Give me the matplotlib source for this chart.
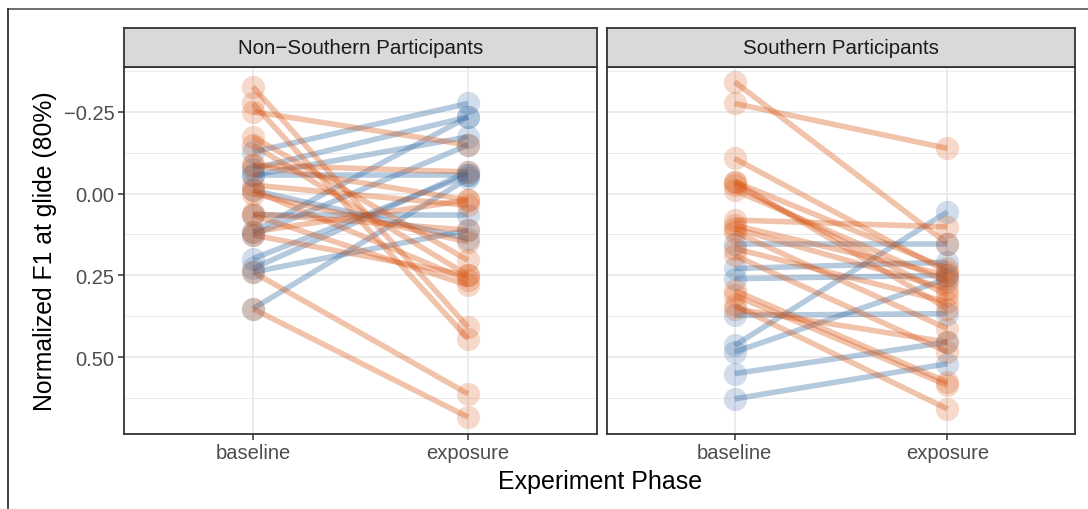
import numpy as np
import matplotlib.pyplot as plt
from matplotlib.lines import Line2D

plt.rcParams['font.family'] = ['Liberation Sans', 'DejaVu Sans']

phases = ["baseline", "exposure"]
panels = ["Non\u2212Southern Participants", "Southern Participants"]

# Non-Southern: baseline -> exposure
ns_blue_base = [-0.127, -0.076, -0.056, 0.117, 0.127, 0.229, 0.199, 0.352, -0.056, 0.066, -0.010, 0.240]
ns_blue_exp = [-0.275, -0.234, -0.173, -0.234, -0.148, -0.066, -0.056, -0.046, -0.056, 0.066, 0.138, 0.112]
ns_orange_base = [-0.326, -0.250, -0.275, -0.173, -0.148, -0.087, -0.026, -0.010, 0.000, 0.061,
                  0.066, 0.127, 0.240, 0.352, -0.087, 0.117]
ns_orange_exp = [0.408, -0.148, 0.443, 0.204, 0.250, 0.020, 0.036, 0.265, 0.148, 0.112,
                 0.280, 0.250, 0.612, 0.683, -0.066, 0.020]

# Southern
s_blue_base = [0.464, 0.484, 0.550, 0.627, 0.153, 0.229, 0.260, 0.372]
s_blue_exp = [0.056, 0.260, 0.454, 0.520, 0.153, 0.210, 0.250, 0.367]
s_orange_base = [-0.341, -0.275, -0.107, -0.036, -0.026, -0.010, -0.036, 0.081, 0.097, 0.107,
                 0.117, 0.168, 0.189, 0.296, 0.311, 0.342, 0.352]
s_orange_exp = [0.153, -0.138, 0.240, 0.229, 0.311, 0.270, 0.352, 0.102, 0.250, 0.291,
                0.413, 0.331, 0.484, 0.576, 0.586, 0.658, 0.454]

blue = "#2E67A3"
orange = "#D9530F"

data = [
    [(ns_blue_base, ns_blue_exp, blue), (ns_orange_base, ns_orange_exp, orange)],
    [(s_blue_base, s_blue_exp, blue), (s_orange_base, s_orange_exp, orange)],
]

W, H = 1088, 510
fig = plt.figure(figsize=(W / 100, H / 100), dpi=100)

# outer frame (partially visible in the crop)
fig.add_artist(Line2D([8 / W, 1], [1 - 9.7 / H, 1 - 9.7 / H], color="#555555", lw=1.2))
fig.add_artist(Line2D([8 / W, 8 / W], [0, 1 - 9.7 / H], color="#222222", lw=1.2))

lefts = [124, 607]
rights = [597, 1075]
top, bottom = 67.5, 434.5
strip_top = 29

for k in range(2):
    l, r = lefts[k], rights[k]
    ax = fig.add_axes([l / W, 1 - bottom / H, (r - l) / W, (bottom - top) / H])
    ax.set_xlim(-0.6, 1.6)
    ax.set_ylim(0.733, -0.388)
    ax.set_yticks([-0.25, 0.0, 0.25, 0.5])
    ax.set_yticks([-0.375, -0.125, 0.125, 0.375, 0.625], minor=True)
    ax.set_xticks([0, 1])
    ax.set_xticklabels(phases)
    ax.grid(True, which="major", color="#EBEBEB", lw=1.3)
    ax.grid(True, which="minor", axis="y", color="#EBEBEB", lw=0.7)
    ax.set_axisbelow(True)
    for sp in ax.spines.values():
        sp.set_color("#333333")
        sp.set_linewidth(1.3)
    ax.tick_params(axis="both", which="major", colors="#333333", labelcolor="#4D4D4D",
                   labelsize=14.5, length=4, width=1.1, pad=3)
    ax.tick_params(axis="y", which="minor", length=0)
    if k == 0:
        ax.set_yticklabels(["\u22120.25", "0.00", "0.25", "0.50"])
    else:
        ax.set_yticklabels([])
        ax.tick_params(axis="y", which="major", length=0)

    for base, exp, col in data[k]:
        for b, e in zip(base, exp):
            ax.plot([0, 1], [b, e], color=col, alpha=0.35, lw=4, solid_capstyle="butt", zorder=2)
        ax.scatter(np.zeros(len(base)), base, s=280, color=col, alpha=0.22, linewidths=0, zorder=3)
        ax.scatter(np.ones(len(exp)), exp, s=280, color=col, alpha=0.22, linewidths=0, zorder=3)

    # facet strip
    sax = fig.add_axes([l / W, 1 - top / H, (r - l) / W, (top - strip_top) / H])
    sax.set_xticks([])
    sax.set_yticks([])
    sax.set_facecolor("#D9D9D9")
    for sp in sax.spines.values():
        sp.set_color("#333333")
        sp.set_linewidth(1.3)
    sax.text(0.5, 0.5, panels[k], ha="center", va="center", fontsize=14.8, color="#1A1A1A",
             transform=sax.transAxes)

fig.text(600 / W, 1 - 482 / H, "Experiment Phase", ha="center", va="center", fontsize=18)
fig.text(45 / W, 1 - 251 / H, "Normalized F1 at glide (80%)", ha="center", va="center",
         rotation=90, fontsize=17.8)

fig.savefig("out.png", dpi=100, facecolor="white")
